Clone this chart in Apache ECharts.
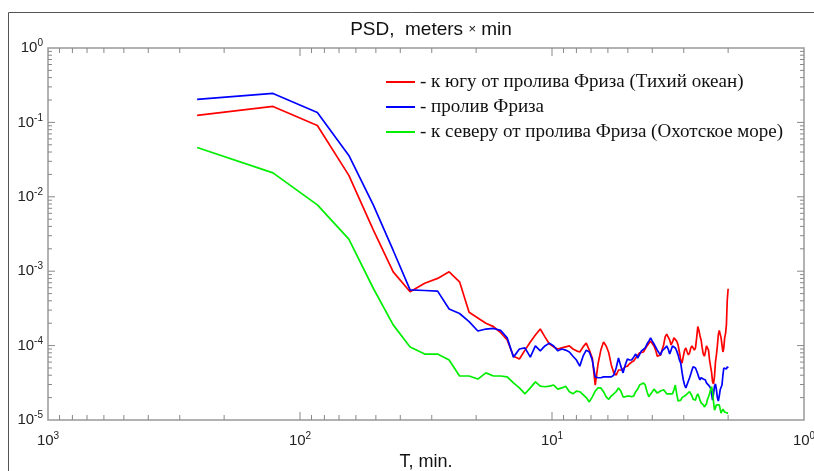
<!DOCTYPE html>
<html>
<head>
<meta charset="utf-8">
<title>PSD</title>
<script src="https://cdn.jsdelivr.net/npm/echarts@6.0.0/dist/echarts.min.js"></script>
<style>
  html, body { margin: 0; padding: 0; background: #fff; }
  #chart { width: 814px; height: 471px; }
</style>
</head>
<body>
<div id="chart"></div>
<script>
// периоды T, мин (сетка спектра)
const periods = [
  256, 128, 85.33, 64, 51.2, 42.67, 36.57, 32, 28.44, 25.6,
  23.27, 21.33, 19.69, 18.29, 17.07, 16, 15.06, 14.22, 13.47, 12.8,
  12.19, 11.64, 11.13, 10.67, 10.24, 9.846, 9.481, 9.143, 8.828, 8.533,
  8.258, 8, 7.758, 7.529, 7.314, 7.111, 6.919, 6.737, 6.564, 6.4,
  6.244, 6.095, 5.953, 5.818, 5.689, 5.565, 5.447, 5.333, 5.224, 5.12,
  5.020, 4.923, 4.830, 4.741, 4.655, 4.571, 4.491, 4.414, 4.339, 4.267,
  4.197, 4.129, 4.063, 4, 3.938, 3.879, 3.821, 3.765, 3.710, 3.657,
  3.606, 3.556, 3.507, 3.459, 3.413, 3.368, 3.325, 3.282, 3.241, 3.2,
  3.160, 3.122, 3.084, 3.048, 3.012, 2.977, 2.943, 2.909, 2.876, 2.844,
  2.813, 2.783, 2.753, 2.723, 2.695, 2.667, 2.639, 2.612, 2.586, 2.56,
  2.535, 2.510, 2.485, 2.462, 2.438, 2.415, 2.393, 2.370, 2.349, 2.327,
  2.306, 2.286, 2.265, 2.246, 2.226, 2.207, 2.188, 2.169, 2.151, 2.133,
  2.116, 2.098, 2.081, 2.065, 2.048, 2.032, 2.016, 2
];

// к югу от пролива Фриза (красная)
const southPsd = [
  0.124, 0.164, 0.091, 0.0194, 0.0036, 9.8e-4, 5.3e-4, 6.9e-4, 8.0e-4, 9.8e-4,
  7.2e-4, 2.8e-4, 2.35e-4, 2.0e-4, 1.8e-4, 1.5e-4, 1.19e-4, 7.2e-5, 6.6e-5, 8.7e-5,
  1.12e-4, 1.39e-4, 1.67e-4, 1.31e-4, 1.05e-4, 9.6e-5, 9.0e-5, 9.3e-5, 9.6e-5, 9.9e-5,
  9.0e-5, 8.5e-5, 8.2e-5, 9.6e-5, 1.08e-4, 8.7e-5, 6.8e-5, 2.95e-5, 5.7e-5, 8.7e-5,
  1.12e-4, 9.9e-5, 8.0e-5, 5.5e-5, 4.3e-5, 4.0e-5, 4.7e-5, 4.7e-5, 4.85e-5, 5.2e-5,
  5.3e-5, 5.7e-5, 6.0e-5, 6.2e-5, 6.8e-5, 7.2e-5, 8.0e-5, 8.2e-5, 8.2e-5, 8.7e-5,
  9.9e-5, 1.05e-4, 1.15e-4, 1.12e-4, 9.9e-5, 8.7e-5, 7.2e-5, 7.2e-5, 7.5e-5, 7.7e-5,
  1.02e-4, 1.31e-4, 1.43e-4, 1.39e-4, 1.19e-4, 1.02e-4, 1.12e-4, 1.27e-4, 1.31e-4, 1.15e-4,
  1.02e-4, 8.2e-5, 6.4e-5, 5.8e-5, 7.2e-5, 8.7e-5, 9.3e-5, 8.2e-5, 7.5e-5, 8.0e-5,
  9.3e-5, 9.9e-5, 9.6e-5, 8.7e-5, 9.3e-5, 1.27e-4, 1.8e-4, 1.6e-4, 1.35e-4, 1.19e-4,
  9.3e-5, 7.7e-5, 7.2e-5, 8.2e-5, 9.9e-5, 9.9e-5, 8.7e-5, 6.4e-5, 5.3e-5, 4.4e-5,
  3.25e-5, 3.05e-5, 3.9e-5, 6.0e-5, 7.5e-5, 9.9e-5, 1.39e-4, 1.6e-4, 1.6e-4, 1.27e-4,
  1.02e-4, 8.2e-5, 9.3e-5, 1.27e-4, 1.45e-4, 1.9e-4, 4.1e-4, 5.8e-4
];

// пролив Фриза (синяя)
const straitPsd = [
  0.204, 0.245, 0.136, 0.036, 0.0078, 0.0019, 5.6e-4, 5.5e-4, 5.4e-4, 3.1e-4,
  2.7e-4, 2.1e-4, 1.57e-4, 1.67e-4, 1.7e-4, 1.6e-4, 1.27e-4, 7.0e-5, 9.0e-5, 9.3e-5,
  7.0e-5, 9.9e-5, 8.5e-5, 9.9e-5, 1.08e-4, 9.9e-5, 8.5e-5, 9.0e-5, 8.7e-5, 8.2e-5,
  7.2e-5, 6.4e-5, 5.3e-5, 7.2e-5, 8.7e-5, 8.2e-5, 6.4e-5, 3.8e-5, 3.7e-5, 3.7e-5,
  3.8e-5, 3.8e-5, 3.8e-5, 3.8e-5, 4.0e-5, 5.0e-5, 6.8e-5, 5.3e-5, 4.3e-5, 5.5e-5,
  6.6e-5, 6.4e-5, 6.4e-5, 7.0e-5, 7.7e-5, 6.8e-5, 6.8e-5, 8.5e-5, 8.7e-5, 9.3e-5,
  1.05e-4, 1.15e-4, 1.27e-4, 1.15e-4, 1.05e-4, 9.9e-5, 8.7e-5, 8.0e-5, 7.5e-5, 8.5e-5,
  9.0e-5, 9.3e-5, 9.9e-5, 9.0e-5, 7.7e-5, 8.7e-5, 9.9e-5, 9.6e-5, 9.3e-5, 8.5e-5,
  7.5e-5, 6.4e-5, 5.8e-5, 4.4e-5, 3.45e-5, 2.95e-5, 2.7e-5, 2.85e-5, 3.35e-5, 3.7e-5,
  4.15e-5, 4.7e-5, 5.2e-5, 5.2e-5, 5.0e-5, 4.7e-5, 4.15e-5, 3.7e-5, 3.45e-5, 3.7e-5,
  3.8e-5, 3.55e-5, 3.35e-5, 3.45e-5, 3.15e-5, 3.05e-5, 2.95e-5, 2.95e-5, 2.7e-5, 2.25e-5,
  1.85e-5, 2.25e-5, 2.85e-5, 3.05e-5, 2.55e-5, 2.0e-5, 1.8e-5, 2.1e-5, 2.55e-5, 2.7e-5,
  2.95e-5, 4.0e-5, 5.0e-5, 5.3e-5, 5.0e-5, 4.85e-5, 5.2e-5, 5.0e-5
];

// к северу от пролива Фриза (зелёная)
const northPsd = [
  0.046, 0.021, 0.0078, 0.0027, 5.9e-4, 1.9e-4, 9.6e-5, 7.7e-5, 7.7e-5, 6.4e-5,
  3.9e-5, 3.9e-5, 3.55e-5, 4.3e-5, 3.9e-5, 3.9e-5, 3.8e-5, 3.15e-5, 2.7e-5, 2.25e-5,
  2.7e-5, 3.25e-5, 2.85e-5, 2.8e-5, 2.85e-5, 2.95e-5, 2.6e-5, 2.7e-5, 2.85e-5, 2.4e-5,
  2.25e-5, 2.45e-5, 2.4e-5, 2.2e-5, 2.0e-5, 1.75e-5, 2.05e-5, 2.45e-5, 2.7e-5, 2.7e-5,
  2.4e-5, 2.05e-5, 1.9e-5, 2.1e-5, 2.25e-5, 2.4e-5, 2.7e-5, 2.45e-5, 2.05e-5, 2.05e-5,
  2.1e-5, 2.1e-5, 2.05e-5, 2.1e-5, 2.4e-5, 2.6e-5, 2.95e-5, 3.05e-5, 3.15e-5, 2.95e-5,
  2.4e-5, 2.05e-5, 2.1e-5, 2.4e-5, 2.6e-5, 2.6e-5, 2.3e-5, 2.25e-5, 2.45e-5, 2.6e-5,
  2.55e-5, 2.4e-5, 2.25e-5, 2.2e-5, 2.25e-5, 2.25e-5, 2.25e-5, 2.55e-5, 2.95e-5, 2.25e-5,
  1.8e-5, 1.75e-5, 1.85e-5, 2.0e-5, 2.1e-5, 2.1e-5, 2.2e-5, 2.25e-5, 2.3e-5, 2.4e-5,
  2.3e-5, 2.1e-5, 1.9e-5, 1.8e-5, 1.85e-5, 2.1e-5, 2.25e-5, 2.05e-5, 1.85e-5, 1.7e-5,
  1.65e-5, 1.6e-5, 1.5e-5, 1.45e-5, 1.65e-5, 1.9e-5, 2.05e-5, 2.25e-5, 2.55e-5, 2.8e-5,
  2.4e-5, 1.75e-5, 1.36e-5, 1.45e-5, 1.6e-5, 1.7e-5, 1.7e-5, 1.6e-5, 1.4e-5, 1.24e-5,
  1.28e-5, 1.4e-5, 1.32e-5, 1.28e-5, 1.32e-5, 1.28e-5, 1.24e-5, 1.24e-5
];

const seriesNames = [
  "- к югу от пролива Фриза (Тихий океан)",
  "- пролив Фриза",
  "- к северу от пролива Фриза (Охотское море)"
];

const xMin = 1, xMax = 1000;
const yMin = 1e-5, yMax = 1;
const tickColor = "#888";

// деления осей: большие на декадах, малые на 2..9
const xTicks = [];
[1, 10, 100].forEach(function (d) {
  if (d > 1) xTicks.push([d, yMax, 8]);
  for (let m = 2; m <= 9; m++) xTicks.push([m * d, yMax, 5]);
});
const yTicks = [];
[1e-5, 1e-4, 1e-3, 1e-2, 1e-1].forEach(function (d) {
  if (d > 1e-5) yTicks.push([xMax, d, 7]);
  for (let m = 2; m <= 9; m++) yTicks.push([xMax, m * d, 4]);
});

function zip(xs, ys) {
  return xs.map(function (x, i) { return [x, ys[i]]; });
}

function powLabel(value) {
  const e = Math.round(Math.log10(value));
  return "{b|10}{e|" + e + "}";
}

const labelRich = {
  b: { fontSize: 15, color: "#222", fontFamily: "Liberation Sans" },
  e: { fontSize: 10, color: "#222", fontFamily: "Liberation Sans", padding: [0, 0, 9, 0] }
};

function tickLine(x1, y1, x2, y2) {
  return {
    type: "line",
    shape: { x1: x1, y1: y1, x2: x2, y2: y2 },
    style: { stroke: tickColor, lineWidth: 1 }
  };
}

const chart = echarts.init(document.getElementById("chart"));

var option = {
  backgroundColor: "#fff",
  animation: false,
  title: {
    text: "{a|PSD,  meters }{x|×}{a| min}",
    left: 426,
    top: 15,
    textAlign: "center",
    textStyle: {
      fontWeight: "normal",
      rich: {
        a: { fontSize: 19, fontWeight: "normal", color: "#111", fontFamily: "Liberation Sans" },
        x: { fontSize: 13, fontWeight: "normal", color: "#111", fontFamily: "Liberation Sans" }
      }
    }
  },
  legend: {
    data: seriesNames,
    orient: "vertical",
    left: 381,
    top: 67,
    icon: "rect",
    itemWidth: 29,
    itemHeight: 2,
    itemGap: 5,
    textStyle: {
      fontFamily: "Liberation Serif",
      fontSize: 19,
      color: "#111",
      lineHeight: 20
    }
  },
  grid: {
    left: 48,
    right: 10,
    top: 48,
    bottom: 51,
    outerBoundsMode: "none",
    show: true,
    borderColor: "#999",
    borderWidth: 1.5
  },
  xAxis: {
    type: "log",
    logBase: 10,
    min: xMin,
    max: xMax,
    inverse: true,
    name: "T, min.",
    nameLocation: "middle",
    nameGap: 33,
    nameTextStyle: { fontSize: 18, color: "#111", fontFamily: "Liberation Sans" },
    axisLine: { show: false },
    axisTick: { show: false },
    splitLine: { show: false },
    axisLabel: {
      margin: 11,
      formatter: powLabel,
      rich: labelRich
    }
  },
  yAxis: {
    type: "log",
    logBase: 10,
    min: yMin,
    max: yMax,
    axisLine: { show: false },
    axisTick: { show: false },
    splitLine: { show: false },
    axisLabel: {
      margin: 5,
      formatter: powLabel,
      rich: labelRich
    }
  },
  graphic: [
    // внешняя рамка рисунка
    {
      type: "polyline",
      shape: { points: [[8.5, 471], [8.5, 12.5], [814, 12.5]] },
      style: { stroke: "#555", lineWidth: 1, fill: null }
    }
  ],
  series: [
    {
      name: seriesNames[0],
      type: "line",
      data: zip(periods, southPsd),
      showSymbol: false,
      color: "#ff0000",
      lineStyle: { width: 1.7, color: "#ff0000" }
    },
    {
      name: seriesNames[1],
      type: "line",
      data: zip(periods, straitPsd),
      showSymbol: false,
      color: "#0000ff",
      lineStyle: { width: 1.7, color: "#0000ff" }
    },
    {
      name: seriesNames[2],
      type: "line",
      data: zip(periods, northPsd),
      showSymbol: false,
      color: "#00ee00",
      lineStyle: { width: 1.7, color: "#00ee00" }
    },
    {
      // деления по X снизу и сверху, внутрь
      type: "custom",
      silent: true,
      clip: false,
      data: xTicks,
      renderItem: function (params, api) {
        const v = api.value(0), len = api.value(2);
        const b = api.coord([v, yMin]);
        const t = api.coord([v, yMax]);
        return {
          type: "group",
          children: [
            tickLine(b[0], b[1], b[0], b[1] - len),
            tickLine(t[0], t[1], t[0], t[1] + len)
          ]
        };
      }
    },
    {
      // деления по Y слева и справа
      type: "custom",
      silent: true,
      clip: false,
      data: yTicks,
      renderItem: function (params, api) {
        const v = api.value(1), len = api.value(2);
        const l = api.coord([xMax, v]);
        const r = api.coord([xMin, v]);
        return {
          type: "group",
          children: [
            tickLine(l[0], l[1], l[0] + len, l[1]),
            tickLine(r[0], r[1], r[0] - len, r[1])
          ]
        };
      }
    }
  ]
};

chart.setOption(option);
</script>
</body>
</html>
